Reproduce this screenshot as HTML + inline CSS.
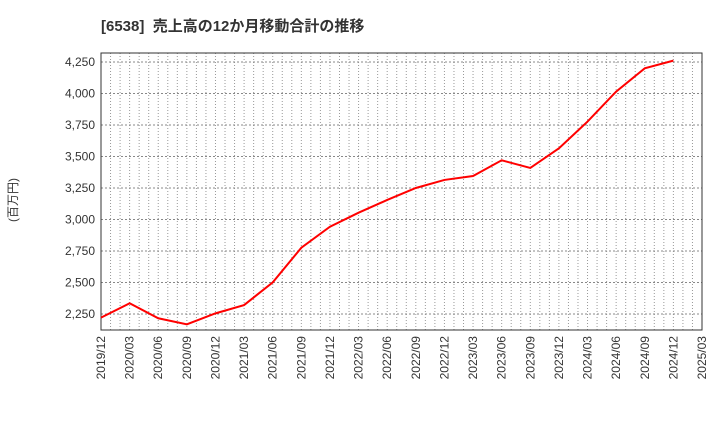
<!DOCTYPE html>
<html><head><meta charset="utf-8"><style>
body{margin:0;background:#fff;font-family:"Liberation Sans","Noto Sans CJK JP",sans-serif;}
</style></head><body>
<svg width="720" height="440" xmlns="http://www.w3.org/2000/svg">
<text x="101" y="31" font-size="15" font-weight="bold" fill="#333" font-family="Liberation Sans,Noto Sans CJK JP,sans-serif">[6538]&#160;&#160;売上高の12か月移動合計の推移</text>
<text transform="translate(17,200) rotate(-90)" font-size="12" fill="#333" text-anchor="middle" font-family="Liberation Sans,Noto Sans CJK JP,sans-serif">(百万円)</text>
<g id="grid"></g><g id="axes"></g>
<rect x="101" y="53" width="601" height="277" fill="none" stroke="#333" stroke-width="1"/>
<path id="line" fill="none" stroke="#f00" stroke-width="2"/>
</svg>
<script>
const categories=["2019/12","2020/03","2020/06","2020/09","2020/12","2021/03","2021/06","2021/09","2021/12","2022/03","2022/06","2022/09","2022/12","2023/03","2023/06","2023/09","2023/12","2024/03","2024/06","2024/09","2024/12"];
const values=[2221,2335,2216,2168,2255,2321,2501,2776,2943,3054,3155,3250,3314,3345,3470,3409,3565,3777,4015,4200,4261];
const xLabels=["2019/12","2020/03","2020/06","2020/09","2020/12","2021/03","2021/06","2021/09","2021/12","2022/03","2022/06","2022/09","2022/12","2023/03","2023/06","2023/09","2023/12","2024/03","2024/06","2024/09","2024/12","2025/03"];
const yTicks=[2250,2500,2750,3000,3250,3500,3750,4000,4250];
const ns="http://www.w3.org/2000/svg";
const L=101,R=702,T=53,B=330;
const step=(R-L)/21;
const x=i=>L+i*step;
const y=v=>314-(v-2250)*(252/2000);
const grid=document.getElementById('grid'),axes=document.getElementById('axes');
function mk(tag,attrs,parent){const e=document.createElementNS(ns,tag);for(const k in attrs)e.setAttribute(k,attrs[k]);parent.appendChild(e);return e;}
for(let m=1;m<63;m++){const xx=L+m*step/3;
const g=mk('line',{x1:xx,x2:xx,y1:T,y2:B,stroke:'#999','stroke-dasharray':'1,2','stroke-width':1},grid);

}
yTicks.forEach(v=>{const yy=y(v);
const g=mk('line',{x1:L,x2:R,y1:yy,y2:yy,stroke:'#888','stroke-dasharray':'2,2','stroke-width':1},grid);


const t=mk('text',{x:L-6,y:yy+4,'font-size':12,fill:'#333','text-anchor':'end'},axes);
t.textContent=v.toLocaleString('en-US');

});
xLabels.forEach((s,i)=>{const xx=x(i);
const t=mk('text',{transform:`translate(${xx+4},${B+6}) rotate(-90)`,'font-size':12,fill:'#333','text-anchor':'end'},axes);
t.textContent=s;

});
document.getElementById('line').setAttribute('d',values.map((v,i)=>(i?'L':'M')+x(i)+','+y(v)).join(' '));
</script>
</body></html>
